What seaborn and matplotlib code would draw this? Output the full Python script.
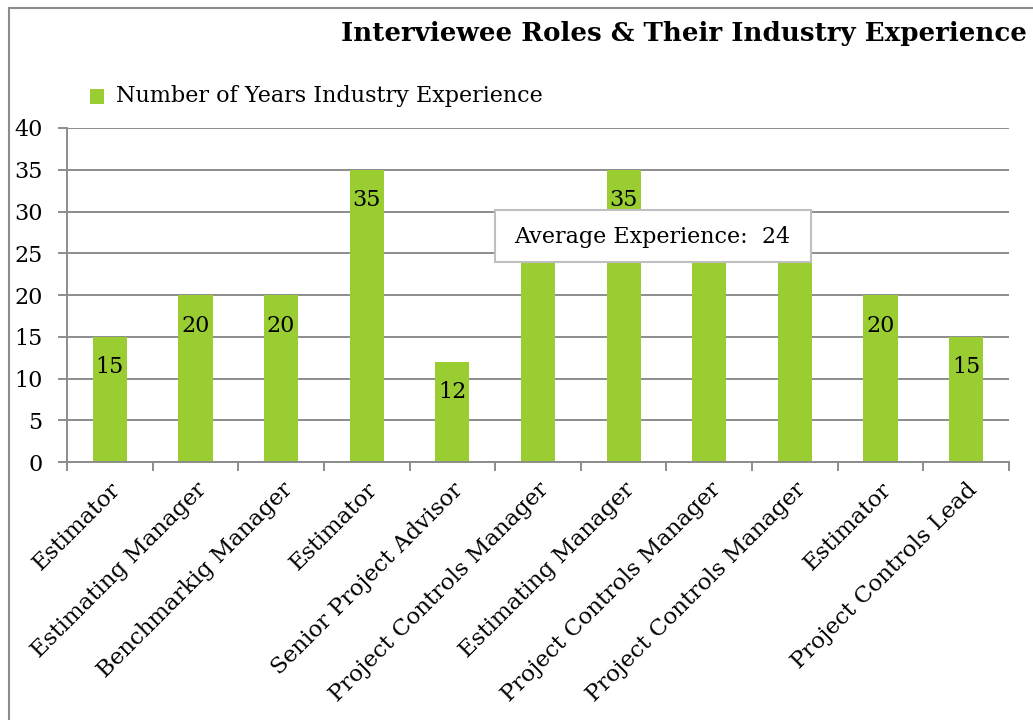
import matplotlib
matplotlib.use("Agg")
import matplotlib.pyplot as plt
import seaborn as sns
import pandas as pd
from matplotlib.patches import Rectangle
from matplotlib.ticker import FixedLocator

roles = ["Estimator", "Estimating Manager", "Benchmarkig Manager", "Estimator",
         "Senior Project Advisor", "Project Controls Manager", "Estimating Manager",
         "Project Controls Manager", "Project Controls Manager", "Estimator",
         "Project Controls Lead"]
years = [15, 20, 20, 35, 12, 30, 35, 30, 30, 20, 15]
series_name = "Number of Years Industry Experience"
title = "Interviewee Roles & Their Industry Experience"
average_label = "Average Experience:  24"
yticks = [0, 5, 10, 15, 20, 25, 30, 35, 40]

sns.set_theme(style="white")
plt.rcParams['font.family'] = ['DejaVu Serif']
plt.rcParams['text.color'] = 'black'
plt.rcParams['xtick.color'] = 'black'
plt.rcParams['ytick.color'] = 'black'

GREEN = "#9ACD32"
GRID = "#8C8C8C"
FS = 16

df = pd.DataFrame({"idx": range(len(roles)), "years": years})

W, H = 1033, 720
fig = plt.figure(figsize=(W / 100, H / 100), dpi=100)
ax = fig.add_axes([67/W, 1 - 462/H, (1009-67)/W, (462-128)/H])

sns.barplot(data=df, x="idx", y="years", color=GREEN, width=0.4, ax=ax,
            saturation=1, edgecolor="none")

ax.set_ylim(0, 40)
ax.set_xlim(-0.5, len(roles) - 0.5)
ax.set_yticks(yticks)
ax.set_yticklabels([str(t) for t in yticks], fontsize=FS)
ax.set_xticks(range(len(roles)))
ax.set_xticklabels(roles, rotation=45, ha="right", rotation_mode="anchor", fontsize=16.5)
ax.set_xlabel("")
ax.set_ylabel("")
ax.yaxis.grid(True, color=GRID, linewidth=1.4)
ax.set_axisbelow(True)
for s in ["top", "right"]:
    ax.spines[s].set_visible(False)
for s in ["left", "bottom"]:
    ax.spines[s].set_color(GRID)
    ax.spines[s].set_linewidth(1.4)
ax.tick_params(axis="y", length=6.5, color=GRID, width=1.4, pad=11, left=True)
ax.tick_params(axis="x", which="major", length=0, pad=12, bottom=False)
ax.xaxis.set_minor_locator(FixedLocator([i - 0.5 for i in range(len(roles) + 1)]))
ax.tick_params(axis="x", which="minor", length=6.5, color=GRID, width=1.4, bottom=True)

# average box region (pixels from top-left)
box_l, box_t, box_r, box_b = 495, 210, 811, 262

# bar labels (those falling under the average box are hidden, as in the original)
fig.canvas.draw()
for i, v in enumerate(years):
    px, py = ax.transData.transform((i, v))
    ly = H - (py - 22 * 100 / 72)
    if box_l <= px <= box_r and box_t <= ly <= box_b:
        continue
    ax.annotate(str(v), (i, v), xytext=(0, -22), textcoords="offset points",
                ha="center", va="center", fontsize=FS, color="black", zorder=3)

# average box (covers the bars beneath it)
fig.patches.append(Rectangle((box_l/W, 1 - box_b/H), (box_r-box_l)/W, (box_b-box_t)/H,
                             transform=fig.transFigure, facecolor="white",
                             edgecolor="#BFBFBF", linewidth=1.5, zorder=10))
fig.text(652/W, 1 - 237/H, average_label, ha="center", va="center", fontsize=FS,
         zorder=11)

# legend
fig.patches.append(Rectangle((90/W, 1 - 104/H), 14/W, 15/H,
                             transform=fig.transFigure, facecolor=GREEN, edgecolor="none"))
fig.text(116/W, 1 - 96/H, series_name, ha="left", va="center", fontsize=FS)

# title
fig.text(1027/W, 1 - 33/H, title, ha="right", va="center", fontsize=18.8,
         fontweight="bold")

# outer frame
fig.patches.append(Rectangle((9/W, -0.01), 1.02, 1 - 8/H + 0.01,
                             transform=fig.transFigure, facecolor="none",
                             edgecolor="#8C8C8C", linewidth=1.5))

fig.savefig("out.png", dpi=100)
